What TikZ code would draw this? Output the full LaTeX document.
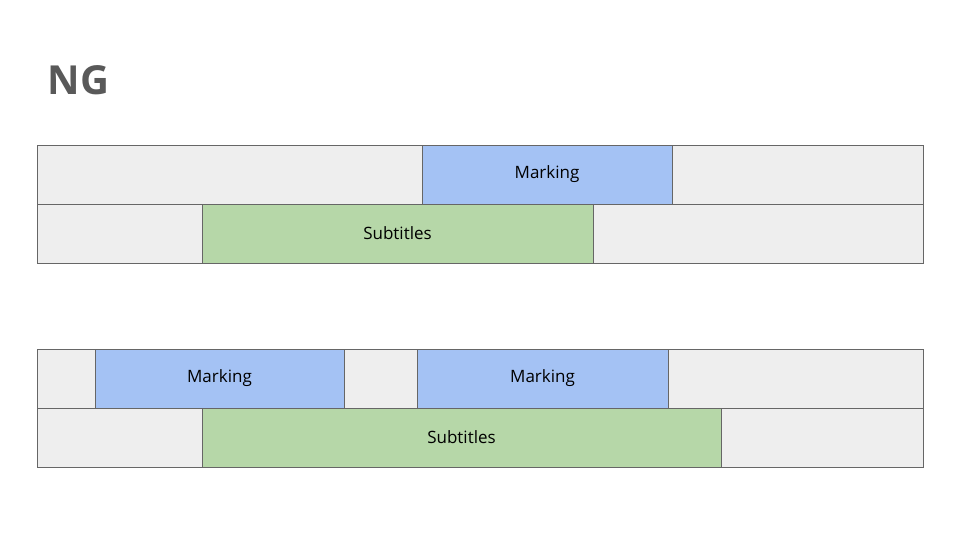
\documentclass[tikz,border=0pt]{standalone}
\usepackage{fontspec}
\setmainfont{Open Sans}
\definecolor{bg}{HTML}{EEEEEE}
\definecolor{bl}{HTML}{A4C2F4}
\definecolor{gr}{HTML}{B6D7A8}
\definecolor{ln}{HTML}{666666}
\definecolor{tt}{HTML}{595959}
\begin{document}
\begin{tikzpicture}[x=1pt,y=-1pt,
  box/.style={draw=ln,line width=0.8pt,inner sep=0pt,font=\fontsize{17}{20}\selectfont},
  lane/.style={box,fill=bg},
  markbox/.style={box,fill=bl},
  subbox/.style={box,fill=gr}]
\useasboundingbox (0,0) rectangle (960,540);
\node[anchor=west,text=tt,font=\fontsize{40}{44}\bfseries] (title) at (44,80) {NG};
\node[lane,minimum width=886,minimum height=59] (l1) at (480,174.5) {};
\node[lane,minimum width=886,minimum height=59] (l2) at (480,233.5) {};
\node[markbox,minimum width=250,minimum height=59] (m1) at (547,174.5) {Marking};
\node[subbox,minimum width=391,minimum height=59] (s1) at (397.5,233.5) {Subtitles};
\node[lane,minimum width=886,minimum height=59] (l3) at (480,378.5) {};
\node[lane,minimum width=886,minimum height=59] (l4) at (480,437.5) {};
\node[markbox,minimum width=249,minimum height=59] (m2) at (219.5,378.5) {Marking};
\node[markbox,minimum width=251,minimum height=59] (m3) at (542.5,378.5) {Marking};
\node[subbox,minimum width=519,minimum height=59] (s2) at (461.5,437.5) {Subtitles};
\end{tikzpicture}
\end{document}
